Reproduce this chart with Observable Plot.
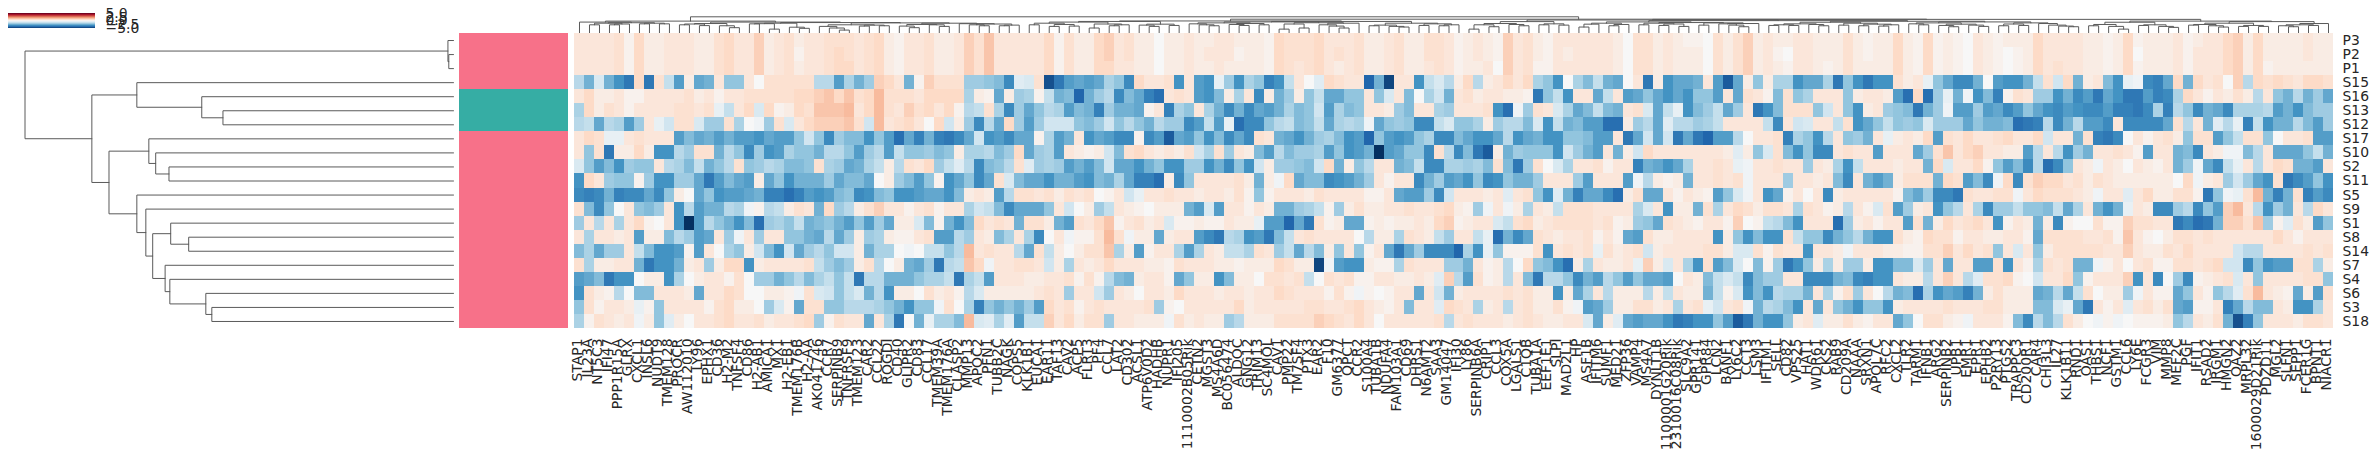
<!DOCTYPE html>
<html><head><meta charset="utf-8">
<script src="https://cdn.jsdelivr.net/npm/d3@7"></script>
<script src="https://cdn.jsdelivr.net/npm/@observablehq/plot@0.6"></script>
<style>html,body{margin:0;padding:0;background:#fff;overflow:hidden}#chart{position:relative;width:2373px;height:454px}</style>
</head><body><div id="chart"></div>
<script>
// value = cell number * valueStep (z-score)
const valueStep = 0.2;
const genes = ["STAP1","IL23A","NT5C3","IFI47","PPP1R15A","GLRX","CXCL1","INSL6","NUDT9","TMEM128","PROCR","AW112010","LY96","EPHX1","CD36","H2-M2","TNFSF4","CD86","H2-AB1","AMICA1","MX1","H2-EB1","TMEM176B","H2-AA","AK041746","CCR7","SERPINB9","TNFRSF9","TMEM123","CAR2","CCL22","ROGDI","CD40","GLIPR2","CD83","CCL17","TMEM39A","TMEM176A","CLASP2","MMP13","APOC2","PFN1","TUBB2C","NAGK","COPS5",
"KLK1B1","EUCA1","EAR11","TAF13","CAV2","ACP5","FLRT3","PF4","CCL7","LAT2","CD302","ACSL1","ATP6V0D2","HADHB","NUPR1","IFI205","1110002B05Rik","CETN2","MGST3","MS4A6D","BC056474","ALDOC","GNG12","TRIM13","SC4MOL","CAV1","PMP22","TM7SF4","PTX3","EAR2","F10","GM6377","QPCT","CCR2","S100A4","TUBA1B","NDUFA4","FAM103A1","CD69","DHRS1","N6AMT2","SAA3","GM14047","IFI30",
"LY86","SERPINB6A","CRIP1","CCL3","COX5A","LGALS1","C1QB","TUBA1A","EEF1E1","SLPI","MAD2L1","HP","ASF1B","IFITM6","SUMF1","MED21","ZFP36","VAMP4","MS4A7","DYNLT1B","1100001G20Rik","2310016C08Rik","SLC9A2","GPR141","GPR84","LCN2","BANF1","LY6C2","CCT3","LSM3","IFITM1","SELL","CD82","VPS25","HAT1","WDR61","CKS2","RAB9","CD209A","NAAA","SRXN1","APOL7C","RFC2","CXCL2",
"TLR2","TARM1","IFNB1","ARG2","SERPINB2","UPB1","EMR1","EPR1","EPHB2","P2RY13","PTGS2","TRAPPC3","CD200R1","CAR4","CHI3L3","IL27","KLK1B11","RND1","OAS1","THBS1","NCF1","GSTM1","CCL6","LY6E","FCGR3","VIM","MMP8","MEF2C","PGF","IFIT1","RSAD2","IRGM1","HMGN2","OAZ2","MRPL32","1600029D21Rik","PDZD11","MGL2","SLFN1","SEPP1","FCER1G","BPNT1","NIACR1"];
const samples = ["P3","P2","P1","S15","S16","S13","S12","S17","S10","S2","S11","S5","S9","S1","S8","S14","S7","S4","S6","S3","S18"];
const groupOf = ["a","a","a","a","b","b","b","a","a","a","a","a","a","a","a","a","a","a","a","a","a"];

const P3 = [3,3,3,3,4,1,5,2,2,3,3,3,2,2,4,5,3,3,6,2,3,4,2,3,3,4,4,4,3,4,5,2,1,3,3,4,2,2,3,6,4,7,3,3,3,
3,3,5,1,4,2,2,5,6,3,4,2,2,0,2,2,3,2,2,3,3,2,2,2,1,5,4,4,4,5,3,3,3,4,2,2,3,4,2,2,4,4,3,1,
2,3,2,1,6,3,4,2,1,3,3,3,3,3,3,2,0,4,4,2,3,2,1,1,0,4,2,4,6,2,3,2,2,3,3,2,2,2,4,2,1,2,2,5,
2,1,5,1,2,1,0,3,2,1,2,2,2,5,3,3,3,3,2,2,1,2,5,1,2,2,2,3,1,2,3,3,5,6,2,5,2,2,2,2,3,2,2];
const P2 = [3,3,3,3,4,1,5,2,2,3,3,3,2,2,4,5,3,3,6,2,3,4,1,3,3,4,5,4,3,4,5,2,1,3,3,4,2,2,3,6,4,7,3,3,3,
3,3,5,1,4,2,2,5,6,3,4,2,2,0,2,2,3,2,3,3,3,1,2,2,1,5,4,4,4,5,3,4,3,4,2,2,3,4,2,2,4,4,3,1,
2,3,2,1,6,3,4,2,1,3,2,3,3,3,3,2,0,4,4,2,3,2,2,2,0,4,2,4,6,2,3,1,0,3,3,2,2,2,4,2,1,2,2,5,
2,1,5,1,2,1,0,3,2,1,0,1,2,5,3,3,3,3,2,2,1,2,5,0,2,2,2,3,1,3,3,3,5,6,2,5,2,2,2,2,3,2,2];
const P1 = [3,3,3,3,4,1,5,2,2,3,3,3,2,2,4,5,3,3,6,2,3,4,2,3,3,4,5,5,3,4,5,2,1,3,3,4,2,2,3,6,4,7,3,3,3,
3,3,5,1,4,2,2,5,5,3,3,2,2,0,2,2,3,2,2,3,2,2,2,2,1,5,4,3,4,5,3,2,3,4,2,2,3,4,2,2,3,4,3,1,
2,2,3,0,6,3,4,1,1,3,3,3,3,3,3,2,0,4,4,2,3,2,2,2,0,4,2,4,6,2,3,2,1,3,3,2,1,2,4,2,2,2,2,5,
2,1,5,1,2,1,0,3,2,1,0,1,2,5,3,4,3,3,2,2,1,2,5,1,2,2,2,3,1,3,3,3,5,6,2,5,1,2,2,2,2,2,2];
const S15 = [-7,-12,-4,-12,-15,-18,5,-18,4,-6,-14,2,-13,-12,3,-10,-10,3,0,4,4,4,4,4,-7,-7,-14,-8,-12,-9,6,5,3,-12,1,6,4,4,4,-9,-9,-10,-11,-16,-3,
-4,4,-22,-18,-14,-13,-14,-13,-8,-10,-16,5,3,3,4,-15,3,-14,-15,-2,-9,-15,-8,-10,-17,-15,-6,3,0,-3,5,4,3,3,-20,-12,-23,3,3,-15,-6,-4,-7,2,
5,-7,2,3,5,3,5,-8,-10,-15,0,-8,-11,-6,-12,-13,0,3,-18,2,-15,-13,-13,-12,3,-14,-21,-13,2,-10,2,-8,-8,-15,-13,-13,-8,-18,-10,-15,-18,-15,-15,4,
2,3,-2,-10,-13,-16,-16,-12,0,-14,-15,-15,-12,-6,4,-5,5,-12,2,3,-11,-15,-2,-1,-16,-17,-13,5,-12,5,3,4,0,6,-7,5,4,5,4,3,5,5,4];
const S16 = [3,5,2,2,3,1,1,3,3,3,3,4,2,3,1,3,3,4,4,4,4,4,5,5,6,7,5,7,4,5,8,4,4,4,3,5,5,5,5,-8,2,1,-13,2,-9,
-8,1,-6,-12,-11,-20,-12,-9,-7,-16,-11,-13,-17,-19,3,4,3,-14,-15,-11,2,-8,3,-16,2,-12,-9,2,-10,-6,-13,-13,-10,-10,3,-10,-4,3,-11,0,-8,-5,-12,3,
4,2,3,3,2,2,1,-18,-10,-6,-15,3,3,-13,-6,3,-14,-13,-10,-13,-15,-13,-15,-10,-10,-14,3,-13,4,3,1,-11,4,-10,-8,3,3,3,-10,2,3,3,2,-14,
-19,5,-19,-9,-2,-12,-1,-15,-11,-17,1,4,3,-9,-9,-15,-12,-16,-14,-18,-13,-15,-18,-18,-14,-17,-16,-8,5,3,1,3,2,4,2,-7,3,-10,-12,-7,-12,-9,-13];
const S13 = [-8,5,2,4,3,1,3,3,3,3,4,4,3,4,-2,-6,3,5,-4,5,1,2,5,4,7,7,7,8,3,5,8,4,3,6,4,5,3,5,1,-7,-6,4,-8,-16,-9,
-13,-10,-7,-8,-14,-11,-12,-17,-9,-12,-12,-13,1,3,-17,-8,-10,3,-8,-12,-16,-12,-16,-13,-14,-12,-8,-11,-10,-5,-14,-8,-11,-10,3,3,2,-9,-11,3,3,-8,-9,3,
3,3,4,-15,-19,-1,-9,4,3,-4,-8,-13,-11,-6,-11,-12,3,4,-4,-13,-6,-2,-15,-11,-9,-6,-13,-9,3,-18,-15,-11,4,4,4,-10,-5,3,-10,-15,2,3,-9,-10,
-11,-18,-12,-9,-1,-14,-14,-9,-14,-13,-16,-14,-10,-13,-15,-16,-14,-15,-16,-16,-14,-17,-17,-18,-16,-8,-17,-7,-10,-16,-12,-13,-16,-8,-8,-8,-7,-14,-12,-15,-11,-9,-9];
const S12 = [-7,-6,-13,-7,-8,-14,-9,3,-2,-5,4,4,-4,-9,-9,4,-8,0,-1,-9,4,-4,3,5,6,6,6,7,4,-5,8,3,4,5,3,0,5,-5,2,-9,-16,-7,-13,5,-9,
-14,-9,-5,-5,-5,-10,-11,-9,-5,-10,-7,-10,-12,-7,-9,-9,-16,-14,-6,-14,-2,-19,-16,-16,-10,-7,-6,-11,-10,-6,-13,-8,-7,-8,-1,-13,-10,-9,-10,-16,-16,-6,-4,-10,
-10,-8,2,-9,-7,-7,-11,-4,-15,-6,-12,-11,-14,-14,-19,-19,2,-9,-7,-13,-3,-7,-7,-9,-8,-6,3,3,3,3,-6,-16,3,-5,-4,3,3,-6,4,-15,-13,-10,-6,-10,
-9,-10,-4,-9,-9,-9,-13,-10,-12,-12,-11,-19,-18,-17,-7,-16,-12,-7,-14,-14,-16,3,-16,-16,-16,-16,-13,4,-7,3,-12,-3,-7,-2,-17,-6,-15,-12,-12,-7,-11,-14,-9];
const S17 = [3,5,4,-2,-2,3,4,3,3,3,-14,-11,-13,-12,-14,-12,-14,-14,-15,-13,-14,-14,-10,-5,-10,-16,-9,-11,-11,-15,-10,-14,-19,-13,-17,-12,-17,-18,-16,-13,-5,-15,-14,-16,-13,
-13,1,-8,-14,-12,3,-15,-13,-14,-16,-16,1,-16,-14,-21,-13,-14,-10,-15,-11,-16,-13,-16,4,3,-12,-13,-15,-12,-9,-8,-11,-15,-14,-20,-10,-14,-15,-14,-10,-8,-16,-16,-11,
-13,-15,-15,-13,-7,-15,-13,-12,-15,-15,-10,-10,-11,-14,-14,3,-18,-13,-5,-13,-5,-18,-13,-18,-20,-14,-14,-7,0,3,3,4,-17,-8,-10,-15,-7,3,-10,-9,-12,3,-2,2,
3,2,5,-14,4,3,5,3,3,4,5,3,3,5,-5,3,3,-12,4,-17,-18,-16,0,3,1,3,4,2,-10,4,4,-14,-10,-6,4,4,-10,0,3,3,4,-14,-14];
const S10 = [3,-10,4,-18,2,2,5,2,-15,-15,-7,-9,4,4,-12,-7,-10,-16,-9,-15,-14,-8,-10,-10,-12,-7,-7,-10,-14,-9,-7,-14,-6,-10,-10,-9,-11,-10,2,-8,-8,-7,-11,-9,5,
-13,-9,-8,-14,3,2,1,2,-5,-11,4,5,3,2,3,2,4,-5,-8,4,-9,3,2,-11,-14,-7,-11,-9,-9,-8,-14,-10,-15,-14,-12,-25,-14,-13,-10,-10,-16,4,-7,-16,
-11,-18,-21,2,-12,-9,-10,-10,-10,-15,-5,-9,-12,-14,3,-12,2,-5,5,3,3,3,3,3,3,3,2,-3,2,-10,-4,4,-11,-15,-10,-16,-16,3,4,3,3,-14,3,3,
3,-13,-9,4,7,3,5,6,3,3,2,2,-14,-7,3,-7,-15,-9,-12,3,3,4,3,1,-14,3,3,-12,-11,-16,3,2,-1,-1,-11,-7,3,-13,-13,-13,-10,-6,-12];
const S2 = [-4,-10,-14,-11,-15,-9,-10,-10,3,-7,-8,-11,-6,-12,-10,-7,4,-10,-9,-7,-8,-11,-11,-10,4,-8,-9,-13,-12,-8,-6,2,-7,4,3,5,-9,-6,-3,-7,-16,-11,-10,-7,4,
-3,-9,-8,-9,-14,-12,-14,-11,-5,-13,-13,-15,-12,-10,-15,-15,-9,-9,-15,-12,-16,-10,-15,-5,2,-9,-9,-10,-11,-5,5,-12,2,-10,-7,3,3,-12,-11,-6,-16,-16,-8,-8,
-9,-8,-11,4,-11,-18,-9,4,0,-4,-8,3,3,4,1,3,3,-17,-12,-13,-15,-13,-8,3,3,4,3,-2,-1,3,3,4,3,3,-9,3,2,-8,-15,-6,3,3,3,2,
3,3,-12,5,-4,3,3,5,1,-10,-14,-11,-16,-7,-19,-16,-10,3,2,-1,3,2,0,3,2,1,3,-12,-9,-1,-13,-16,-6,-2,3,-7,3,5,4,-12,-12,-14,3];
const S11 = [-15,5,3,-9,-10,-10,1,-9,-15,-15,-9,-9,-13,-18,-14,-11,-13,-14,2,-13,-10,-15,-12,-12,-12,-9,-13,-11,-11,-13,0,2,-9,-11,-14,-10,1,-15,-13,-10,-16,-13,4,-4,-11,
-13,-13,-15,-12,-12,-14,-15,-11,-12,-8,-13,-17,-17,-19,2,-16,-10,3,3,3,3,4,2,-12,2,-1,5,-13,-11,-11,-16,-15,-14,-12,-9,3,1,3,3,-16,-12,-9,-14,-13,
-15,-10,-16,-15,-10,-12,-12,-9,3,3,3,-9,-14,3,3,3,-14,-1,-7,2,1,2,-12,3,3,4,3,4,-1,3,3,3,-9,3,3,2,3,-11,-16,3,-12,-14,-12,2,
4,4,4,-12,5,4,-14,-11,-16,-1,5,-16,4,6,5,5,3,4,2,4,3,2,2,2,2,2,2,0,5,-1,2,3,-9,-5,-9,-13,-15,4,-18,-16,-14,-10,-15];
const S5 = [-16,-17,-16,-12,-17,-16,-16,-13,-16,-10,2,0,-13,-10,-15,-14,-14,-13,-12,-17,-17,-19,-17,-14,-15,-14,-11,-10,-16,-15,-11,-10,-15,-15,-14,-13,-13,-15,-11,2,3,2,-14,-7,4,
4,3,4,2,4,3,4,0,1,3,-5,-2,3,3,4,3,3,2,3,3,2,4,1,-10,1,3,3,3,2,4,3,3,3,3,1,1,3,-13,-14,-14,-9,-16,-5,3,
3,3,2,3,-3,3,4,-10,-15,-3,-12,-17,-13,-13,-16,-19,2,4,-13,-13,3,1,3,2,1,-14,-10,-4,-1,3,-15,-13,1,3,0,3,-16,2,3,3,3,3,3,1,
-11,-13,-9,-16,-16,-18,4,3,3,4,4,-1,3,5,4,4,4,3,2,-1,3,3,-3,3,5,2,2,4,4,1,-18,-10,-1,-2,4,8,-12,-17,-12,4,-17,-14,-16];
const S9 = [4,-11,-16,-10,0,3,-10,-11,-9,3,-15,-7,-14,-12,-12,-7,-8,-1,1,-7,-6,2,4,3,-12,5,-9,-7,2,4,6,3,3,1,3,4,1,3,3,-8,-5,-6,-11,-16,-13,
-13,-13,-10,3,-5,0,2,-9,-6,3,2,1,0,2,2,2,-12,-14,-4,-14,3,3,1,3,2,-12,-12,-9,-8,-6,1,-9,2,4,2,2,3,3,4,3,3,4,5,2,
1,-9,-1,3,-1,2,-8,3,2,-6,4,4,4,3,3,3,3,-8,-4,3,-15,2,2,-12,4,-8,3,5,4,2,4,4,3,-8,4,3,1,2,-7,3,1,-4,4,-14,
-9,2,3,-15,-10,-7,3,-8,-16,-9,-9,-6,-10,-10,-11,-6,-13,-8,3,-12,-15,-12,-2,3,2,-16,-16,-9,-7,-16,-10,-14,6,8,3,-7,-15,-9,-12,3,-7,5,3];
const S1 = [-9,3,-7,3,-8,3,5,1,0,3,-15,-25,-14,-7,-10,-12,-15,-11,-19,-9,-8,-10,-6,-12,-11,-10,-12,-14,-10,-14,-9,-13,2,2,-4,-11,1,-12,-15,-11,5,3,4,3,-12,
4,4,2,-12,-14,4,3,5,7,1,3,4,2,3,-4,1,1,2,1,1,3,2,2,-2,-14,-14,-20,-13,-18,4,1,2,-13,-13,1,2,1,2,2,3,2,5,6,1,
2,3,3,-4,-6,4,5,2,3,4,4,4,4,3,4,1,2,-9,-10,-13,4,3,2,1,3,3,1,6,0,1,-6,-7,-11,-15,3,3,3,-19,-9,2,3,1,3,3,
-14,4,-12,2,5,3,4,5,3,-15,1,3,2,-12,2,-16,1,0,0,4,1,1,6,4,4,3,3,-18,-16,-19,-18,-12,6,6,4,7,-9,1,-3,4,2,-14,-10];
const S8 = [3,-8,3,3,2,3,-14,2,2,-11,-7,-9,-14,-13,3,-9,-1,3,-9,3,3,-10,-10,-12,-13,-7,-13,-9,2,-9,-8,2,1,1,3,4,-14,-14,-7,-9,3,2,-11,-8,3,
-8,-16,0,3,-1,1,1,4,8,4,-1,2,2,-13,2,3,3,-14,-16,-18,-7,-8,-15,-14,-18,-11,-6,3,4,3,3,3,3,0,-7,2,2,-8,4,3,2,-6,-9,3,
3,-6,-2,-19,-12,-16,-13,4,3,2,3,3,4,1,3,1,-13,-14,4,2,2,3,3,3,3,-15,2,-10,-15,-11,-15,-15,4,-6,-10,-10,-16,-12,-10,-7,-12,-15,-15,4,
2,1,5,4,4,1,3,3,2,2,3,3,1,-13,4,4,4,4,3,3,4,1,7,3,1,0,2,4,4,3,4,3,3,3,3,3,3,5,3,1,3,3,3];
const S14 = [-11,-8,-13,-9,-9,3,-6,-11,-15,-15,-14,1,-14,3,0,-8,-10,2,-5,-11,-15,-5,-13,-9,-7,-10,-5,-5,2,-12,-8,-8,0,-1,0,-6,-6,-10,-7,8,3,4,3,3,-7,
-13,4,-6,2,0,2,4,4,7,-8,2,-14,1,3,3,-8,-14,-8,3,2,-6,-6,-8,4,3,-9,-6,-13,-7,-11,2,-10,3,-10,1,3,-13,-18,-13,-9,-16,-16,-16,-20,
-8,-15,-2,-10,1,1,1,4,-15,3,4,3,4,-2,4,2,3,4,-5,2,3,3,3,3,4,4,2,-4,-4,4,1,4,3,3,-15,3,3,2,-1,3,3,3,2,2,
1,1,4,4,6,3,5,3,4,-10,3,-4,3,-10,2,4,4,4,4,4,3,3,6,3,2,2,4,3,5,3,3,3,3,-5,-7,-7,3,3,3,3,4,3,4];
const S7 = [4,-8,2,2,3,3,-12,-18,-15,-15,-12,2,3,-9,2,5,5,-15,2,3,3,3,3,4,-6,-9,-11,-9,2,4,-7,0,2,-12,-13,-9,-18,-7,-6,7,5,-1,3,3,4,
4,3,-5,2,-8,3,2,3,5,3,3,3,2,2,1,4,3,3,3,2,2,1,2,2,2,5,4,2,2,-23,-1,-14,-15,-15,2,1,1,-8,4,3,3,3,-9,-9,
-12,3,1,2,-7,0,5,-10,-11,-15,-19,2,-8,3,2,2,3,-2,6,2,-4,3,-8,-15,4,-14,-11,-4,0,-11,1,-9,-18,-15,-10,2,-8,2,-9,-9,2,-15,-15,-11,
-11,-4,-9,3,-13,3,3,-14,-14,4,-15,3,1,-8,4,3,4,-12,-12,-1,1,3,0,3,4,1,1,4,4,3,4,5,-5,-5,-16,-10,-15,-14,-14,4,4,-8,2];
const S4 = [-14,-13,-11,-18,-15,-15,0,2,2,-15,-8,0,2,3,3,1,4,0,-9,-9,-12,-10,-7,-11,-8,-6,-10,-6,-18,-7,-7,-12,-12,-12,-10,-8,-8,-6,-18,-8,-6,-14,3,3,3,
2,2,3,3,4,1,4,1,-7,-11,-12,2,3,3,1,-13,-10,2,2,-15,-11,2,2,0,4,4,3,4,-6,0,4,3,4,1,1,3,3,2,2,3,2,-3,6,-7,
-14,4,1,2,-7,3,-11,-18,-7,-7,-10,-16,-12,-14,-7,-10,-14,-10,-13,-13,-14,0,3,2,-11,-6,-4,-6,-16,-11,-9,-9,3,3,-16,-16,-16,-12,-11,-16,-17,-15,-15,3,
2,2,-7,3,6,3,-7,-3,4,4,5,1,0,-5,3,3,5,-10,1,3,3,3,6,-15,3,-16,0,-9,-16,1,2,3,4,-4,3,-10,3,3,3,3,4,4,-10];
const S6 = [-15,4,2,1,-7,0,-11,-11,3,3,3,2,-13,3,3,5,4,0,0,2,2,1,-1,4,-4,-5,-10,-6,-4,-12,-7,-15,2,2,0,4,2,3,1,-7,-4,2,2,2,2,
2,3,4,3,-9,3,3,-5,-9,3,2,0,3,3,2,5,3,3,3,2,3,3,2,3,3,5,4,3,3,3,1,4,1,-1,1,0,1,3,3,-13,3,-5,-12,2,
3,3,3,3,4,3,4,2,2,-15,2,-13,-8,3,-7,2,2,2,-7,2,-6,3,2,2,-12,-6,1,-4,-15,-11,-15,-7,-8,-8,-12,3,-8,1,4,-9,3,0,-7,-12,
-11,-19,-8,-15,-13,-14,-17,-12,2,4,2,2,2,-13,-12,-7,-13,-6,4,0,2,2,-9,-1,3,1,1,-13,-10,3,1,-10,-7,-3,4,8,3,2,1,-13,2,-14,4];
const S3 = [-10,4,1,3,3,2,-2,1,-10,3,3,3,3,1,4,5,2,2,0,-9,-4,1,-13,4,4,-10,-10,-7,-7,-7,-8,-10,-12,-15,-10,-10,-1,4,0,-8,-17,-10,-12,-10,-12,
-9,-14,5,3,4,1,3,4,3,3,3,3,4,-9,1,0,3,3,3,3,3,5,2,3,3,3,3,3,4,4,3,3,4,5,3,2,1,3,-11,3,3,-3,5,4,
3,-8,2,3,-7,3,4,2,2,4,1,-1,-14,-13,-9,2,2,4,4,2,3,-8,3,4,-2,-5,3,4,-1,-12,-7,-8,-11,-15,3,-13,3,-10,-12,-15,-10,-10,-15,2,
3,3,3,3,4,3,3,3,4,4,2,2,2,-11,-11,-4,-2,-13,-18,3,1,3,-3,3,4,2,4,-13,-14,1,1,3,-17,-13,-7,-11,-11,3,2,-15,-15,-8,3];
const S18 = [-8,1,4,3,2,3,-1,2,-10,-3,2,0,3,3,4,5,3,3,4,2,3,3,4,5,-9,1,4,3,3,-13,3,-8,-18,0,-12,-2,-8,-8,-11,8,-4,-3,-8,-3,-14,
-6,-6,6,3,5,2,4,4,-9,3,3,2,2,2,-1,4,2,3,2,2,-9,-7,2,2,2,4,4,4,4,6,5,4,3,5,3,0,3,3,3,3,3,4,-7,3,
4,3,3,3,2,3,4,3,2,2,3,3,-4,-13,2,-3,-13,-14,-13,-13,-15,-18,-17,-15,-15,-10,-14,-21,-18,-12,-15,-15,-10,2,3,-3,2,2,4,2,1,3,3,-13,
-10,0,4,4,2,1,-1,3,3,3,1,-11,-16,-7,-11,-7,4,2,0,-1,1,-1,0,1,1,1,2,-10,-7,3,2,4,-12,-22,-17,-10,3,3,3,2,4,4,3];
const matrix = [P3,P2,P1,S15,S16,S13,S12,S17,S10,S2,S11,S5,S9,S1,S8,S14,S7,S4,S6,S3,S18];

// dendrograms: node = [distance, left, right]; 0 = leaf
const rowTree = [100,[1.3,0,[1.1,0,0]],[84.4,[73.9,0,[58.75,0,[53.8,0,0]]],[80.4,[71.1,0,[69.5,0,[66.4,0,0]]],[73.9,0,[71.8,0,[70.2,[66,0,[61.8,0,0]],[67.3,0,[66.2,0,[57.8,0,[56.4,0,0]]]]]]]]]];
const c1=[58,[50,[23,0,0],[38,0,0]],[52,0,[44,0,0]]];
const c2=[56,[50,0,0],[48,0,0]];
const c3=[60,[54,[36,0,0],0],[52,[44,0,0],0]];
const dd=[64,[60,[50,0,0],[55,[46,0,0],[40,0,0]]],[62,[48,0,0],[58,[56,0,[48,0,[38,0,0]]],0]]];
const ee=[66,[56,[50,[46,0,0],[46,0,0]],[52,0,[44,0,0]]],[60,[48,0,0],[54,[44,0,0],[50,[42,0,0],0]]]];
const ff=[68,[62,[56,0,[50,0,0]],[54,[46,0,[38,0,0]],[48,0,[40,0,0]]]],[62,[55,[44,0,0],[46,0,0]],[58,0,[48,0,[42,0,[38,0,0]]]]]];
const gg=[66,[52,[44,0,0],[40,0,[23,0,0]]],[50,[46,0,0],[40,0,[34,0,0]]]];
const hh=[70,[60,[52,[48,0,0],[44,0,[36,0,0]]],[46,[40,0,0],[40,0,0]]],[58,[50,[44,0,[38,0,0]],[46,0,0]],0]];
const la=[67,0,[63,[60,[50,0,0],[55,[50,0,0],0]],[60,[56,0,0],[56,0,0]]]];
const g1=[60,[57,[56,0,0],[23,0,0]],[35,0,[28,0,0]]];
const g3=[50,[40,0,[30,0,[17,0,0]]],[48,[42,0,0],[44,0,0]]];
const g4=[60,[52,[42,0,[32,0,0]],[50,0,[40,0,0]]],[57,0,[55,[50,0,[44,0,0]],[48,[44,0,0],0]]]];
const lb=[67,[58,[55,[50,0,0],[45,0,0]],[44,0,[32,0,0]]],[64,g1,[62,g3,g4]]];
const rll=[71,[67,[60,[50,0,0],[52,[40,0,0],[42,0,0]]],[55,[30,0,0],[50,[44,0,0],0]]],[54,[48,0,[40,0,0]],[46,0,0]]];
const b1=[62,[56,0,[50,0,[44,0,0]]],[58,[52,0,[46,0,0]],[50,0,0]]];
const b2=[63,[55,[23,0,0],[30,0,0]],[60,[50,0,[42,0,[30,0,0]]],0]];
const b3=[60,[48,[44,0,0],[40,0,[36,0,0]]],[56,[46,0,0],[50,[44,0,0],0]]];
const colTree=[100,[73,la,lb],[85,[74,rll,[71,[68,b1,b2],b3]],[84,[80,[70,c1,c2],[76,[68,c3,dd],[72,ee,ff]]],[73,gg,hh]]]];

function treeSegments(tree){
  let leaf=0, id=0; const out=[];
  (function walk(n){
    if(n===0) return {pos:leaf++ +0.5,dist:0};
    const a=walk(n[1]), b=walk(n[2]), k=id++;
    [[a.pos,a.dist],[a.pos,n[0]],[b.pos,n[0]],[b.pos,b.dist]].forEach(([pos,dist])=>out.push({pos,dist,k}));
    return {pos:(a.pos+b.pos)/2,dist:n[0]};
  })(tree);
  return {out,leaves:leaf};
}
const rowSeg=treeSegments(rowTree), colSeg=treeSegments(colTree);
matrix.forEach((r,i)=>{ if(r.length!==176) throw new Error("row "+samples[i]+" has "+r.length); });
if(genes.length!==176||colSeg.leaves!==176||rowSeg.leaves!==21) throw new Error("sizes "+genes.length+" "+colSeg.leaves+" "+rowSeg.leaves);

const W=2373,H=454,font="'DejaVu Sans'",ink="#262626",lineColor="#5a5a5a";
const base={width:W,height:H,style:{position:"absolute",left:"0",top:"0",background:"transparent",fontFamily:font,color:ink,overflow:"visible"}};
const colorScale={type:"linear",domain:[-5,-4,-3,-2,-1,0,1,2,3,4,5],range:["#053061","#2166ac","#4393c3","#92c5de","#d1e5f0","#f7f7f7","#fddbc7","#f4a582","#d6604d","#b2182b","#67001f"]};
const hmTop=33,hmBottom=H-328,hmLeft=574,hmRight=W-2333;
const cells=matrix.flatMap((row,i)=>row.map((n,j)=>({gene:genes[j],sample:samples[i],value:n*valueStep})));

const heat=Plot.plot({...base,marginLeft:hmLeft,marginRight:hmRight,marginTop:hmTop,marginBottom:hmBottom,
  x:{domain:genes,padding:0,round:false,axis:null},y:{domain:samples,padding:0,round:false,axis:null},color:colorScale,
  marks:[
    Plot.cell(cells,{x:"gene",y:"sample",fill:"value",shapeRendering:"crispEdges"}),
    Plot.axisX({anchor:"bottom",ticks:genes,tickSize:0,tickPadding:10,tickRotate:-90,fontSize:13.9,label:null,fill:ink,dx:-2}),
    Plot.axisY({anchor:"right",ticks:samples,tickSize:0,tickPadding:9,fontSize:13.9,label:null,fill:ink})
  ]});
const annot=Plot.plot({...base,marginLeft:459,marginRight:W-568,marginTop:hmTop,marginBottom:hmBottom,
  x:{axis:null,domain:["group"],padding:0},y:{domain:samples,padding:0,round:false,axis:null},
  color:{domain:["a","b"],range:["#f77189","#36ada4"]},
  marks:[Plot.cell(samples,{x:()=>"group",y:d=>d,fill:(d,i)=>groupOf[i],shapeRendering:"crispEdges"})]});
const rowDendro=Plot.plot({...base,marginLeft:24.5,marginRight:W-453,marginTop:hmTop,marginBottom:hmBottom,
  x:{domain:[100,0],axis:null},y:{domain:[0,21],reverse:true,axis:null},
  marks:[Plot.line(rowSeg.out,{x:"dist",y:"pos",z:"k",stroke:lineColor,strokeWidth:1,curve:"linear"})]});
const colDendro=Plot.plot({...base,marginLeft:hmLeft,marginRight:hmRight,marginTop:16.3,marginBottom:H-32.3,
  x:{domain:[0,176],axis:null},y:{domain:[0,100],axis:null},
  marks:[Plot.line(colSeg.out,{x:"pos",y:"dist",z:"k",stroke:lineColor,strokeWidth:1,curve:"linear"})]});
const barStep=10/30, barSteps=d3.range(30).map(i=>-5+i*barStep);
const colorbar=Plot.plot({...base,marginLeft:8,marginRight:W-95,marginTop:13,marginBottom:H-28,
  x:{axis:null},y:{domain:[-5,5],axis:null},color:colorScale,
  marks:[
    Plot.rect(barSteps,{y1:d=>d,y2:d=>d+barStep,fill:d=>d+barStep/2,shapeRendering:"crispEdges"}),
    Plot.axisY({anchor:"right",ticks:[-5,-2.5,0,2.5,5],tickFormat:d3.format(".1f"),tickSize:0,tickPadding:10,fontSize:13.9,label:null,fill:ink})
  ]});
const root=document.getElementById("chart");
[rowDendro,annot,colDendro,heat,colorbar].forEach(s=>root.append(s));
</script></body></html>
